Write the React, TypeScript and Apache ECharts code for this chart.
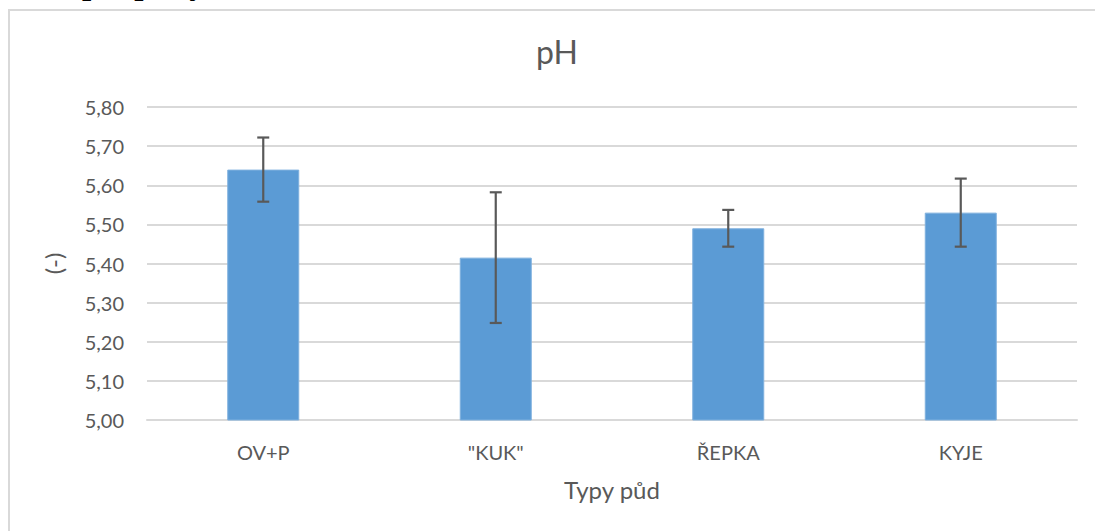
import React, { useEffect, useRef } from "react";
import * as echarts from "echarts";

const categories = ["OV+P", "\"KUK\"", "ŘEPKA", "KYJE"];
const means = [5.64, 5.415, 5.49, 5.53];
const errors = [0.082, 0.167, 0.047, 0.087];
const yTicks = { min: 5.0, max: 5.8, interval: 0.1 };
const titleText = "pH";
const xName = "Typy půd";
const yName = "(-)";
const headerText = "pH půdy";

const FONT = "Lato";
const TEXT = "#595959";

export default function App() {
  const ref = useRef<HTMLDivElement>(null);
  useEffect(() => {
    if (!ref.current) return;
    const chart = echarts.init(ref.current, null, { renderer: "svg" });
    const errData = means.map((m, i) => [i, m - errors[i], m + errors[i]]);
    chart.setOption({
      animation: false,
      backgroundColor: "#ffffff",
      textStyle: { fontFamily: FONT },
      title: {
        text: titleText,
        left: 557,
        textAlign: "center",
        top: 35,
        padding: 0,
        textStyle: { fontFamily: FONT, fontSize: 32, fontWeight: "normal", color: TEXT },
      },
      graphic: [
        {
          type: "rect",
          shape: { x: 9, y: 10, width: 1100, height: 540 },
          style: { fill: "none", stroke: "#d9d9d9", lineWidth: 2 },
          silent: true,
        },
        {
          type: "text",
          x: 82,
          y: -17,
          style: {
            text: headerText,
            font: "bold 33px 'Liberation Serif', 'DejaVu Serif', serif",
            fill: "#000000",
            verticalAlign: "middle",
            align: "left",
          },
          silent: true,
        },
      ],
      grid: { left: 147, right: 18, top: 107, bottom: 111, containLabel: false },
      xAxis: {
        type: "category",
        data: categories,
        name: xName,
        nameLocation: "middle",
        nameGap: 57,
        nameTextStyle: { fontFamily: FONT, fontSize: 24, color: TEXT },
        axisLine: { show: true, lineStyle: { color: "#d9d9d9", width: 2 } },
        axisTick: { show: false },
        axisLabel: { margin: 22, fontFamily: FONT, fontSize: 20, color: TEXT },
        splitLine: { show: false },
      },
      yAxis: {
        type: "value",
        min: yTicks.min,
        max: yTicks.max,
        interval: yTicks.interval,
        name: yName,
        nameLocation: "middle",
        nameGap: 82,
        nameRotate: 90,
        nameTextStyle: { fontFamily: FONT, fontSize: 24, color: TEXT },
        axisLine: { show: false },
        axisTick: { show: false },
        axisLabel: {
          margin: 23,
          fontFamily: FONT,
          fontSize: 20,
          color: TEXT,
          formatter: (v: number) => v.toFixed(2).replace(".", ","),
        },
        splitLine: { show: true, lineStyle: { color: "#d9d9d9", width: 2 } },
      },
      series: [
        {
          type: "bar",
          data: means,
          barWidth: 72,
          itemStyle: { color: "#5b9bd5", borderColor: "#7fb0de", borderWidth: 1 },
          z: 2,
        },
        {
          type: "custom",
          data: errData,
          z: 3,
          renderItem: (params: any, api: any) => {
            const x = api.value(0);
            const lo = api.coord([x, api.value(1)]);
            const hi = api.coord([x, api.value(2)]);
            const half = 6;
            const style = { stroke: "#595959", lineWidth: 2.2, fill: "none" };
            return {
              type: "group",
              children: [
                { type: "line", shape: { x1: hi[0], y1: hi[1], x2: lo[0], y2: lo[1] }, style },
                { type: "line", shape: { x1: hi[0] - half, y1: hi[1], x2: hi[0] + half, y2: hi[1] }, style },
                { type: "line", shape: { x1: lo[0] - half, y1: lo[1], x2: lo[0] + half, y2: lo[1] }, style },
              ],
            };
          },
        },
      ],
    });
    return () => chart.dispose();
  }, []);
  return (
    <div
      ref={ref}
      style={{ position: "absolute", left: 0, top: 0, width: 1095, height: 531 }}
    />
  );
}
